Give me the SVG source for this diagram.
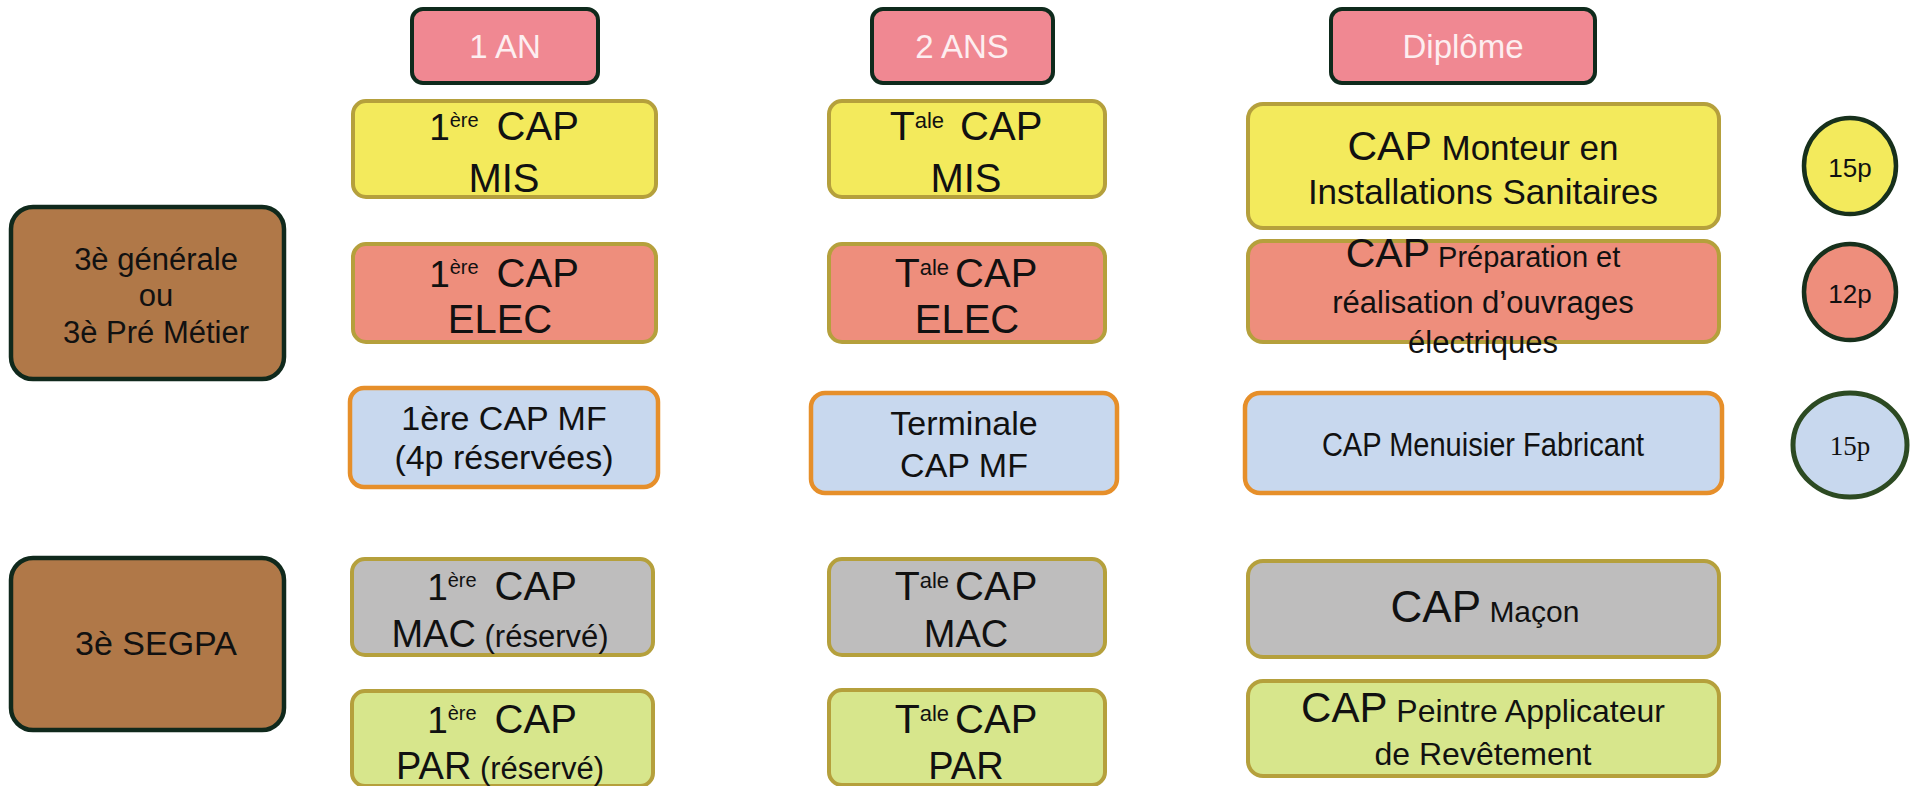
<svg xmlns="http://www.w3.org/2000/svg" width="1914" height="786" viewBox="0 0 1914 786">
<style>
text{font-family:"Liberation Sans",Arial,sans-serif;fill:#111;text-anchor:middle}
.hdr rect{fill:#f08892;stroke:#0f2a1c;stroke-width:4}
.hdr text{fill:#fdeef0;font-size:33px}
.gold{stroke:#b5a03c;stroke-width:4}
.yel{fill:#f3ea5c}
.sal{fill:#ee8e7c}
.gry{fill:#bebdbd}
.grn{fill:#d7e68c}
.blu{fill:#c8d8ee;stroke:#e68f2a;stroke-width:4.5}
.brn{fill:#b07848;stroke:#10291c;stroke-width:4.5}
.circ{stroke:#17301c;stroke-width:4.5}
.big{font-size:40px}
.mf{font-size:34px}
.lt{font-size:31px}
</style>

<g id="hdr-1an" class="hdr"><rect x="412" y="9" width="186" height="74" rx="11"/><text x="505" y="58">1 AN</text></g>
<g id="hdr-2ans" class="hdr"><rect x="872" y="9" width="181" height="74" rx="11"/><text x="962" y="58">2 ANS</text></g>
<g id="hdr-diplome" class="hdr"><rect x="1331" y="9" width="264" height="74" rx="11"/><text x="1463" y="58">Diplôme</text></g>

<g id="src-generale"><rect class="brn" x="11" y="207" width="273" height="172" rx="22"/>
<text class="lt" x="156" y="270">3è générale</text><text class="lt" x="156" y="306">ou</text><text class="lt" x="156" y="343">3è Pré Métier</text></g>
<g id="src-segpa"><rect class="brn" x="11" y="558" width="273" height="172" rx="22"/>
<text x="156" y="655" font-size="34">3è SEGPA</text></g>

<g id="y1-mis"><rect class="yel gold" x="353" y="101" width="303" height="96" rx="13"/>
<text x="504" y="140"><tspan font-size="37">1</tspan><tspan font-size="20" dy="-13">ère</tspan><tspan class="big" dy="13" dx="18">CAP</tspan></text>
<text class="big" x="504" y="192">MIS</text></g>
<g id="y1-elec"><rect class="sal gold" x="353" y="244" width="303" height="98" rx="13"/>
<text x="504" y="287"><tspan font-size="37">1</tspan><tspan font-size="20" dy="-13">ère</tspan><tspan class="big" dy="13" dx="18">CAP</tspan></text>
<text class="big" x="500" y="333">ELEC</text></g>
<g id="y1-mf"><rect class="blu" x="350" y="388" width="308" height="99" rx="14"/>
<text class="mf" x="504" y="430">1ère CAP MF</text><text class="mf" x="504" y="469">(4p réservées)</text></g>
<g id="y1-mac"><rect class="gry gold" x="352" y="559" width="301" height="96" rx="13"/>
<text x="502" y="600"><tspan font-size="37">1</tspan><tspan font-size="20" dy="-13">ère</tspan><tspan class="big" dy="13" dx="18">CAP</tspan></text>
<text x="500" y="647"><tspan font-size="38">MAC</tspan><tspan font-size="31"> (réservé)</tspan></text></g>
<g id="y1-par"><rect class="grn gold" x="352" y="691" width="301" height="95" rx="13"/>
<text x="502" y="733"><tspan font-size="37">1</tspan><tspan font-size="20" dy="-13">ère</tspan><tspan class="big" dy="13" dx="18">CAP</tspan></text>
<text x="500" y="779"><tspan font-size="38">PAR</tspan><tspan font-size="31"> (réservé)</tspan></text></g>

<g id="y2-mis"><rect class="yel gold" x="829" y="101" width="276" height="96" rx="13"/>
<text x="966" y="140"><tspan font-size="41">T</tspan><tspan font-size="22" dy="-12">ale</tspan><tspan class="big" dy="12" dx="16">CAP</tspan></text>
<text class="big" x="966" y="192">MIS</text></g>
<g id="y2-elec"><rect class="sal gold" x="829" y="244" width="276" height="98" rx="13"/>
<text x="966" y="287"><tspan font-size="41">T</tspan><tspan font-size="22" dy="-12">ale</tspan><tspan class="big" dy="12" dx="6">CAP</tspan></text>
<text class="big" x="967" y="333">ELEC</text></g>
<g id="y2-mf"><rect class="blu" x="811" y="393" width="306" height="100" rx="14"/>
<text class="mf" x="964" y="435">Terminale</text><text class="mf" x="964" y="477">CAP MF</text></g>
<g id="y2-mac"><rect class="gry gold" x="829" y="559" width="276" height="96" rx="13"/>
<text x="966" y="600"><tspan font-size="41">T</tspan><tspan font-size="22" dy="-12">ale</tspan><tspan class="big" dy="12" dx="6">CAP</tspan></text>
<text x="966" y="647" font-size="38">MAC</text></g>
<g id="y2-par"><rect class="grn gold" x="829" y="690" width="276" height="95" rx="13"/>
<text x="966" y="733"><tspan font-size="41">T</tspan><tspan font-size="22" dy="-12">ale</tspan><tspan class="big" dy="12" dx="6">CAP</tspan></text>
<text x="966" y="779" font-size="38">PAR</text></g>

<g id="d-mis"><rect class="yel gold" x="1248" y="104" width="471" height="124" rx="15"/>
<text x="1483" y="160"><tspan font-size="41">CAP</tspan><tspan font-size="35"> Monteur en</tspan></text>
<text x="1483" y="204" font-size="35">Installations Sanitaires</text></g>
<g id="d-elec"><rect class="sal gold" x="1248" y="241" width="471" height="101" rx="15"/>
<text x="1483" y="267"><tspan font-size="41">CAP</tspan><tspan font-size="29"> Préparation et</tspan></text>
<text x="1483" y="313" font-size="31">réalisation d’ouvrages</text>
<text x="1483" y="353" font-size="31">électriques</text></g>
<g id="d-mf"><rect class="blu" x="1245" y="393" width="477" height="100" rx="15"/>
<text x="1483" y="456" font-size="33" transform="translate(1483 0) scale(0.88 1) translate(-1483 0)">CAP Menuisier Fabricant</text></g>
<g id="d-mac"><rect class="gry gold" x="1248" y="561" width="471" height="96" rx="15"/>
<text x="1485" y="622"><tspan font-size="44">CAP</tspan><tspan font-size="30"> Maçon</tspan></text></g>
<g id="d-par"><rect class="grn gold" x="1248" y="681" width="471" height="95" rx="15"/>
<text x="1483" y="722"><tspan font-size="42">CAP</tspan><tspan font-size="32"> Peintre Applicateur</tspan></text>
<text x="1483" y="765" font-size="32">de Revêtement</text></g>

<g id="c-mis"><ellipse class="circ yel" cx="1850" cy="166" rx="46" ry="48"/><text x="1850" y="177" font-size="26">15p</text></g>
<g id="c-elec"><ellipse class="circ sal" cx="1850" cy="292" rx="46" ry="48"/><text x="1850" y="303" font-size="26">12p</text></g>
<g id="c-mf"><ellipse cx="1850" cy="445" rx="57" ry="52" fill="#c8d8ee" stroke="#2c4a22" stroke-width="5"/><text x="1850" y="455" font-size="27" style="font-family:'Liberation Serif','Times New Roman',serif">15p</text></g>

<g id="connectors"></g>
</svg>
